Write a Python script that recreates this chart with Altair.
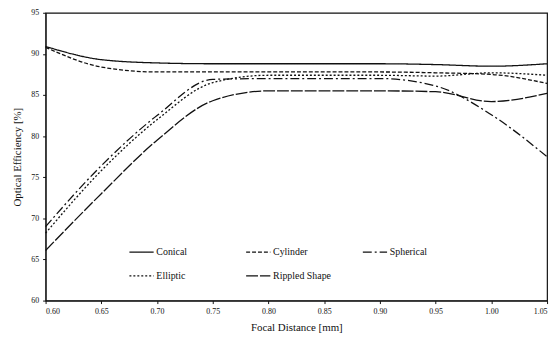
import altair as alt
import pandas as pd

x_ticks = [0.60, 0.65, 0.70, 0.75, 0.80, 0.85, 0.90, 0.95, 1.00, 1.05]
series_names = ["Conical", "Cylinder", "Spherical", "Elliptic", "Rippled Shape"]
conical = [90.9, 89.3, 88.9, 88.8, 88.8, 88.8, 88.8, 88.7, 88.5, 88.8]
cylinder = [90.8, 88.4, 87.8, 87.8, 87.8, 87.8, 87.8, 87.7, 87.5, 86.4]
spherical = [69.0, 76.4, 82.5, 86.9, 87.0, 87.0, 87.0, 86.1, 82.6, 77.5]
elliptic = [68.2, 75.8, 82.0, 86.5, 87.4, 87.4, 87.4, 87.3, 87.7, 87.4]
rippled = [66.1, 73.0, 79.5, 84.3, 85.5, 85.5, 85.5, 85.4, 84.2, 85.2]
y_ticks = [60, 65, 70, 75, 80, 85, 90, 95]

# legend is filled column by column (2 rows x 3 columns)
legend_order = ["Conical", "Elliptic", "Cylinder", "Rippled Shape", "Spherical"]
dash_map = {
    "Conical": [1, 0],
    "Cylinder": [4, 2],
    "Spherical": [9, 3, 2, 3],
    "Elliptic": [2, 2],
    "Rippled Shape": [12, 2],
}

values = [conical, cylinder, spherical, elliptic, rippled]
rows = []
for name, vals in zip(series_names, values):
    for xv, yv in zip(x_ticks, vals):
        rows.append({"x": xv, "y": yv, "Shape": name})
df = pd.DataFrame(rows)

chart = alt.Chart(df).mark_line(
    interpolate="monotone", strokeWidth=1.3, color="#111111"
).encode(
    x=alt.X("x:Q", title="Focal Distance [mm]",
            scale=alt.Scale(domain=[0.60, 1.05], nice=False),
            axis=alt.Axis(values=x_ticks, format=".2f")),
    y=alt.Y("y:Q", title="Optical Efficiency [%]",
            scale=alt.Scale(domain=[60, 95], nice=False),
            axis=alt.Axis(values=y_ticks)),
    strokeDash=alt.StrokeDash("Shape:N",
                              scale=alt.Scale(domain=legend_order,
                                              range=[dash_map[n] for n in legend_order]),
                              sort=legend_order,
                              legend=alt.Legend(
                                  title=None, orient="none", legendX=84, legendY=229,
                                  columns=3, gridAlign="all", columnPadding=29,
                                  rowPadding=6, symbolType="stroke", symbolSize=600,
                                  symbolStrokeColor="#111111", symbolStrokeWidth=1.3,
                                  labelFont="Liberation Serif", labelFontSize=10,
                                  labelColor="#111111", labelOffset=2)),
).properties(
    width=507, height=291,
    autosize=alt.AutoSizeParams(type="none"),
    padding={"left": 38, "top": 3, "right": 5, "bottom": 36},
).configure_view(
    stroke="#111111", strokeWidth=1.2
).configure_axis(
    grid=False, domainColor="#111111", tickColor="#111111",
    labelFont="Liberation Serif", labelFontSize=8, labelColor="#111111",
    titleFont="Liberation Serif", titleFontSize=11, titleFontWeight="normal",
    titleColor="#111111", tickSize=3, labelPadding=4
).configure_axisX(titlePadding=6).configure_axisY(titlePadding=8)

chart.save("out.html", embed_options={"renderer": "svg", "actions": False})
